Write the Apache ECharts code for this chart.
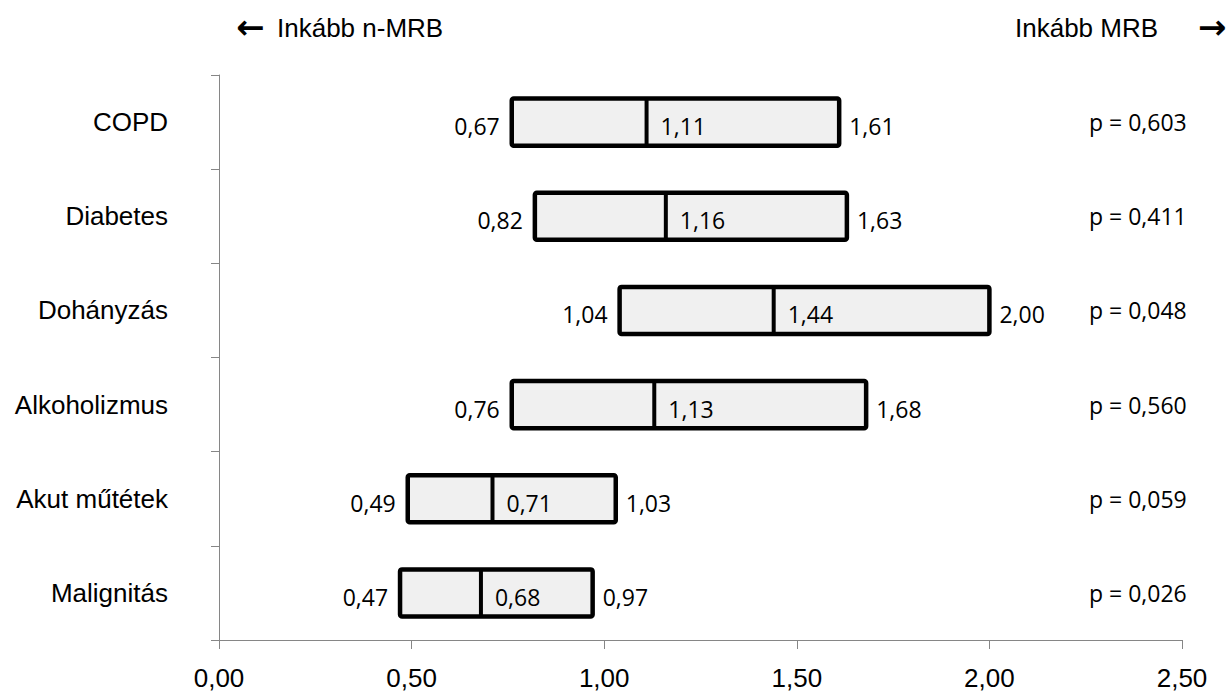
<!DOCTYPE html>
<html>
<head>
<meta charset="utf-8">
<script src="https://cdn.jsdelivr.net/npm/echarts@6/dist/echarts.min.js"></script>
<style>
  html, body { margin: 0; padding: 0; background: #fff; }
  #chart { width: 1229px; height: 693px; }
</style>
</head>
<body>
<div id="chart"></div>
<script>
// kategóriák, fentről lefelé
const categories = ['COPD', 'Diabetes', 'Dohányzás', 'Alkoholizmus', 'Akut műtétek', 'Malignitás'];
// a doboz bal széle, medián, jobb széle
const lowerValues = [0.76, 0.82, 1.04, 0.76, 0.49, 0.47];
const medianValues = [1.11, 1.16, 1.44, 1.13, 0.71, 0.68];
const upperValues = [1.61, 1.63, 2.00, 1.68, 1.03, 0.97];
// a bal oldali felirat (COPD-nél eltér a doboztól az eredetiben)
const lowerLabels = ['0,67', '0,82', '1,04', '0,76', '0,49', '0,47'];
const pValues = ['0,603', '0,411', '0,048', '0,560', '0,059', '0,026'];
const xTicks = [0, 0.5, 1, 1.5, 2, 2.5];

const ARIAL = '"Liberation Sans", Arial, sans-serif';
const CALIBRI = '"Open Sans", sans-serif';
const ARROW = '"DejaVu Sans", sans-serif';
const fmt = v => v.toFixed(2).replace('.', ',');

const chart = echarts.init(document.getElementById('chart'), null, { renderer: 'svg' });

const seriesData = categories.map((c, i) => [i, lowerValues[i], medianValues[i], upperValues[i]]);

const valueText = (x, y, text, align) => ({
  type: 'text',
  x: x,
  y: y,
  style: {
    text: text,
    align: align,
    verticalAlign: 'middle',
    fontFamily: CALIBRI,
    fontSize: 23,
    fill: '#000'
  }
});

const option = {
  animation: false,
  grid: { left: 219, right: 47, top: 75, bottom: 53 },
  xAxis: {
    type: 'value',
    min: xTicks[0],
    max: xTicks[xTicks.length - 1],
    interval: 0.5,
    splitLine: { show: false },
    axisLine: { show: true, lineStyle: { color: '#868686', width: 1 } },
    axisTick: { show: true, length: 9, lineStyle: { color: '#868686' } },
    axisLabel: {
      margin: 25,
      color: '#000',
      fontFamily: ARIAL,
      fontSize: 26,
      formatter: v => fmt(v)
    }
  },
  yAxis: [
    {
      type: 'category',
      data: categories,
      inverse: true,
      axisLine: { show: true, lineStyle: { color: '#868686', width: 1 } },
      axisTick: { show: true, length: 8, lineStyle: { color: '#868686' } },
      axisLabel: {
        margin: 51,
        color: '#000',
        fontFamily: ARIAL,
        fontSize: 26,
        padding: [6, 0, 0, 0]
      },
      splitLine: { show: false }
    },
    {
      // p-értékek a jobb oldalon
      type: 'category',
      data: pValues.map(p => 'p = ' + p),
      inverse: true,
      position: 'right',
      offset: -100,
      axisLine: { show: false },
      axisTick: { show: false },
      axisLabel: {
        margin: 7,
        color: '#000',
        fontFamily: CALIBRI,
        fontSize: 23,
        padding: [6, 0, 0, 0]
      },
      splitLine: { show: false }
    }
  ],
  series: [
    {
      type: 'custom',
      data: seriesData,
      encode: { x: [1, 2, 3], y: 0 },
      renderItem: function (params, api) {
        const i = params.dataIndex;
        const cat = api.value(0);
        const lo = api.coord([api.value(1), cat]);
        const med = api.coord([api.value(2), cat]);
        const hi = api.coord([api.value(3), cat]);
        const h = api.size([0, 1])[1] * 0.5;
        const cy = lo[1];
        const ty = cy + 4;
        return {
          type: 'group',
          children: [
            {
              type: 'rect',
              shape: { x: lo[0], y: cy - h / 2, width: hi[0] - lo[0], height: h, r: 2 },
              style: { fill: '#f0f0f0', stroke: '#000', lineWidth: 4.5 }
            },
            {
              type: 'line',
              shape: { x1: med[0], y1: cy - h / 2, x2: med[0], y2: cy + h / 2 },
              style: { stroke: '#000', lineWidth: 4 }
            },
            valueText(lo[0] - 12, ty, lowerLabels[i], 'right'),
            valueText(med[0] + 14, ty, fmt(api.value(2)), 'left'),
            valueText(hi[0] + 10, ty, fmt(api.value(3)), 'left')
          ]
        };
      }
    }
  ],
  graphic: [
    {
      type: 'text', left: 236, top: 10,
      style: { text: '←', fontFamily: ARROW, fontSize: 34, fontWeight: 'bold', fill: '#000' }
    },
    {
      type: 'text', left: 277, top: 15,
      style: { text: 'Inkább n-MRB', fontFamily: ARIAL, fontSize: 26, fill: '#000' }
    },
    {
      type: 'text', left: 1015, top: 15,
      style: { text: 'Inkább MRB', fontFamily: ARIAL, fontSize: 26, fill: '#000' }
    },
    {
      type: 'text', left: 1198, top: 10,
      style: { text: '→', fontFamily: ARROW, fontSize: 34, fontWeight: 'bold', fill: '#000' }
    }
  ]
};

chart.setOption(option);
</script>
</body>
</html>
